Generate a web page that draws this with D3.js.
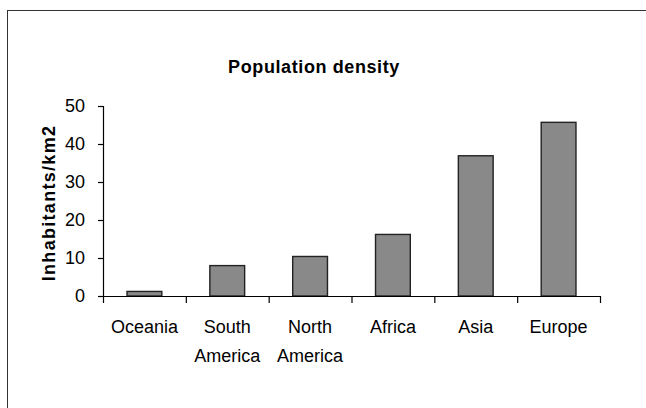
<!DOCTYPE html>
<html>
<head>
<meta charset="utf-8">
<script src="https://cdn.jsdelivr.net/npm/d3@7"></script>
<style>
  html, body { margin: 0; padding: 0; background: #fff; }
  svg { display: block; }
  text { font-family: "Liberation Sans", Arial, sans-serif; fill: #000; }
</style>
</head>
<body>
<svg id="chart" width="646" height="408"></svg>
<script>
// Population density by continent
const categories = ["Oceania", "South America", "North America", "Africa", "Asia", "Europe"];
const density = [1.2, 8.0, 10.4, 16.2, 36.9, 45.7];
const yTicks = [0, 10, 20, 30, 40, 50];

const svg = d3.select("#chart");
const W = 646, H = 408;
const plot = { left: 103, right: 600, top: 106, bottom: 296 };

// Outer frame (runs past the right and bottom edges)
svg.append("rect")
  .attr("x", 7.5).attr("y", 10.5)
  .attr("width", W).attr("height", H)
  .attr("fill", "none").attr("stroke", "#333").attr("stroke-width", 1);

const x = d3.scaleBand()
  .domain(categories)
  .range([plot.left, plot.right])
  .paddingInner(0.58).paddingOuter(0.29);

const xEdges = d3.scaleLinear()
  .domain([0, categories.length])
  .range([plot.left, plot.right]);

const y = d3.scaleLinear().domain([0, 50]).range([plot.bottom, plot.top]);

// Title
svg.append("text")
  .attr("x", 314).attr("y", 73)
  .attr("text-anchor", "middle")
  .style("font-size", "18px").style("font-weight", "bold")
  .style("letter-spacing", "0.6px")
  .text("Population density");

// Y axis
const yAxis = svg.append("g")
  .attr("transform", `translate(${plot.left},0)`)
  .call(d3.axisLeft(y).tickValues(yTicks).tickSize(5).tickPadding(13).tickFormat(d3.format("d")));
yAxis.select(".domain").attr("stroke", "#000").attr("stroke-width", 1.2);
yAxis.selectAll(".tick line").attr("stroke", "#000").attr("stroke-width", 1.2);
yAxis.selectAll(".tick text")
  .style("font-family", "'Liberation Sans', Arial, sans-serif")
  .style("font-size", "18px").attr("fill", "#000");

// Y axis title
svg.append("text")
  .attr("transform", `translate(55,${(plot.top + plot.bottom) / 2 + 2}) rotate(-90)`)
  .attr("text-anchor", "middle")
  .style("font-size", "18px").style("font-weight", "bold")
  .style("letter-spacing", "1.3px")
  .text("Inhabitants/km2");

// Bars
svg.append("g").selectAll("rect")
  .data(categories.map((c, i) => ({ c, v: density[i] })))
  .join("rect")
  .attr("x", d => x(d.c))
  .attr("y", d => y(d.v))
  .attr("width", x.bandwidth())
  .attr("height", d => y(0) - y(d.v))
  .attr("fill", "#898989")
  .attr("stroke", "#222")
  .attr("stroke-width", 1.4);

// X axis: baseline with category-boundary ticks
const xAxis = svg.append("g")
  .attr("transform", `translate(0,${plot.bottom})`)
  .call(d3.axisBottom(xEdges).tickValues(d3.range(categories.length + 1)).tickSize(7).tickSizeOuter(0).tickFormat(""));
xAxis.select(".domain").attr("stroke", "#000").attr("stroke-width", 1.2);
xAxis.selectAll(".tick line").attr("stroke", "#000").attr("stroke-width", 1.2);

// Category labels, wrapped onto lines at spaces
const labels = svg.append("g").selectAll("text")
  .data(categories)
  .join("text")
  .attr("x", d => x(d) + x.bandwidth() / 2)
  .attr("y", plot.bottom + 37)
  .attr("text-anchor", "middle")
  .style("font-size", "18px");
labels.each(function (d) {
  const t = d3.select(this);
  d.split(" ").forEach((w, i) => {
    t.append("tspan")
      .attr("x", x(d) + x.bandwidth() / 2)
      .attr("dy", i === 0 ? 0 : 29)
      .text(w);
  });
});
</script>
</body>
</html>
